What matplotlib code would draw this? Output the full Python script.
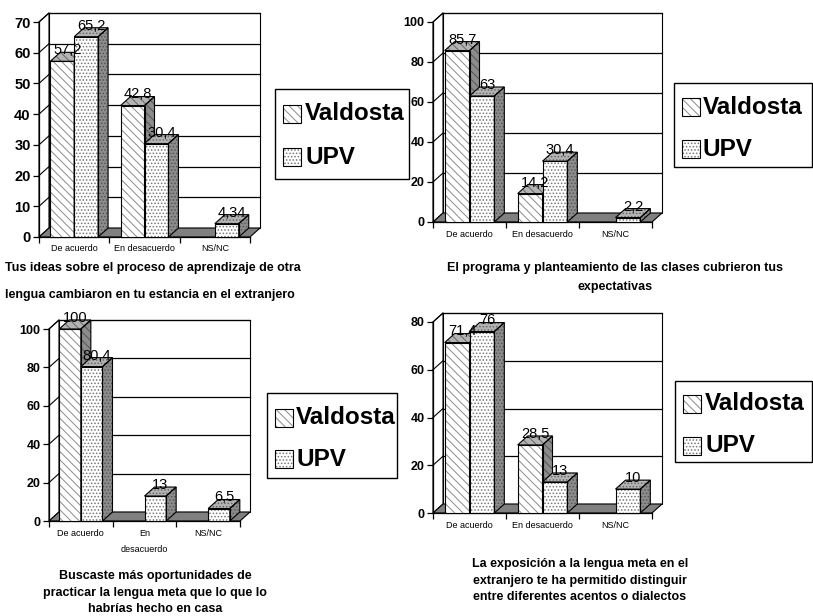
import matplotlib
matplotlib.use('Agg')
import matplotlib.pyplot as plt
import numpy as np
from matplotlib.patches import Polygon, Rectangle

plt.rcParams['font.family'] = ['Liberation Sans', 'DejaVu Sans']
plt.rcParams['hatch.linewidth'] = 0.7
NARROW = ['Liberation Sans Narrow', 'Liberation Sans', 'DejaVu Sans']

# ---- data ----
series = ['Valdosta', 'UPV']
categories = ['De acuerdo', 'En desacuerdo', 'NS/NC']
categories_3 = ['De acuerdo', 'En\ndesacuerdo', 'NS/NC']

valdosta_1 = [57.2, 42.8, 0]
upv_1 = [65.2, 30.4, 4.34]
valdosta_2 = [85.7, 14.2, 0]
upv_2 = [63, 30.4, 2.2]
valdosta_3 = [100, 0, 0]
upv_3 = [80.4, 13, 6.5]
valdosta_4 = [71.4, 28.5, 0]
upv_4 = [76, 13, 10]

yticks_1 = [0, 10, 20, 30, 40, 50, 60, 70]
yticks_2 = [0, 20, 40, 60, 80, 100]
yticks_3 = [0, 20, 40, 60, 80, 100]
yticks_4 = [0, 20, 40, 60, 80]

caption_1 = ['Tus ideas sobre el proceso de aprendizaje de otra',
             'lengua cambiaron en tu estancia en el extranjero']
caption_2 = ['El programa y planteamiento de las clases cubrieron tus',
             'expectativas']
caption_3 = ['Buscaste más oportunidades de',
             'practicar la lengua meta que lo que lo',
             'habrías hecho en casa']
caption_4 = ['La exposición a la lengua meta en el',
             'extranjero te ha permitido distinguir',
             'entre diferentes acentos o dialectos']

W, H = 813, 616
fig = plt.figure(figsize=(W / 100, H / 100), dpi=100)
fig.patch.set_facecolor('white')

def fx(px):
    return px / W

def fy(py):
    return 1 - py / H

DX, DY = 10, 9  # depth offset in pixels
BW = 0.34

styles = {
    'Valdosta': dict(hatch='\\\\\\\\', front='white', top='#b4b4b4', side='#8c8c8c', hc='#8a8a8a'),
    'UPV': dict(hatch='.....', front='white', top='#b4b4b4', side='#8c8c8c', hc='#777777'),
}

def face(ax, pts, fc, hatch, hc, z):
    ax.add_patch(Polygon(pts, closed=True, facecolor=fc, edgecolor=hc, hatch=hatch,
                         lw=0, zorder=z, clip_on=False))
    ax.add_patch(Polygon(pts, closed=True, fill=False, edgecolor='black',
                         lw=0.8, zorder=z + 0.01, clip_on=False))

def panel(box, vals_v, vals_u, yticks, cats, tick_fs, xlab_pad):
    x0, x1, y0, ytop = box
    ymax = yticks[-1]
    ax = fig.add_axes([fx(x0), fy(y0), (x1 - x0) / W, (y0 - ytop) / H])
    ax.set_xlim(-0.5, 2.5)
    ax.set_ylim(0, ymax)
    ax.patch.set_visible(False)
    ddx = DX / (x1 - x0) * 3.0
    ddy = DY / (y0 - ytop) * ymax

    # walls and floor
    ax.add_patch(Rectangle((-0.5 + ddx, ddy), 3, ymax, facecolor='white',
                           edgecolor='black', lw=0.8, zorder=0.5, clip_on=False))
    ax.add_patch(Polygon([(-0.5, 0), (-0.5 + ddx, ddy), (-0.5 + ddx, ymax + ddy), (-0.5, ymax)],
                         facecolor='white', edgecolor='black', lw=0.8, zorder=0.5, clip_on=False))
    for t in yticks[1:]:
        ax.plot([-0.5 + ddx, 2.5 + ddx], [t + ddy, t + ddy], color='black', lw=0.9,
                zorder=0.6, clip_on=False)
        ax.plot([-0.5, -0.5 + ddx], [t, t + ddy], color='black', lw=0.8,
                zorder=0.6, clip_on=False)
    ax.add_patch(Polygon([(-0.5, 0), (2.5, 0), (2.5 + ddx, ddy), (-0.5 + ddx, ddy)],
                         facecolor='#808080', edgecolor='black', lw=0.8, zorder=0.7, clip_on=False))

    # bars
    for si, (name, vals) in enumerate(zip(series, [vals_v, vals_u])):
        st = styles[name]
        z = 3 + si
        for ci, v in enumerate(vals):
            if v <= 0:
                continue
            l = ci - BW + si * BW
            r = l + BW
            face(ax, [(r, 0), (r + ddx, ddy), (r + ddx, v + ddy), (r, v)],
                 st['side'], st['hatch'], '#555555', z)
            face(ax, [(l, v), (r, v), (r + ddx, v + ddy), (l + ddx, v + ddy)],
                 st['top'], st['hatch'], '#666666', z)
            face(ax, [(l, 0), (r, 0), (r, v), (l, v)],
                 st['front'], st['hatch'], st['hc'], z)
            ax.text((l + r) / 2 + ddx / 2, v + ddy * 0.45, f'{v:g}'.replace('.', ','),
                    ha='center', va='bottom', fontsize=10.5, family=NARROW, zorder=10)

    for s in ['top', 'right']:
        ax.spines[s].set_visible(False)
    ax.spines['left'].set_linewidth(0.9)
    ax.spines['bottom'].set_linewidth(0.9)
    ax.set_yticks(yticks)
    ax.set_yticklabels([str(t) for t in yticks], fontsize=tick_fs, weight='bold', family=NARROW)
    ax.tick_params(axis='y', direction='out', length=4, width=0.9, pad=2)
    ax.set_xticks([-0.5, 0.5, 1.5, 2.5])
    ax.set_xticklabels([])
    ax.set_xticks([0, 1, 2], minor=True)
    ax.set_xticklabels(cats, minor=True, fontsize=6.5, linespacing=1.9)
    ax.tick_params(axis='x', which='major', direction='out', length=4, width=0.9)
    ax.tick_params(axis='x', which='minor', length=0, pad=xlab_pad)
    return ax

def legend(box, sq_x, sq_ys, text_x):
    bx0, bx1, by0, by1 = box
    fig.add_artist(Rectangle((fx(bx0), fy(by1)), (bx1 - bx0) / W, (by1 - by0) / H,
                             transform=fig.transFigure, facecolor='white',
                             edgecolor='black', lw=1.0))
    for name, sy in zip(series, sq_ys):
        st = styles[name]
        for fill in (True, False):
            fig.add_artist(Rectangle((fx(sq_x), fy(sy + 18)), 18 / W, 18 / H,
                                     transform=fig.transFigure,
                                     facecolor=st['front'] if fill else 'none',
                                     edgecolor=st['hc'] if fill else 'black',
                                     hatch=st['hatch'] if fill else None,
                                     lw=0 if fill else 0.8))
        fig.text(fx(text_x), fy(sy + 9), name, fontsize=17.5, weight='bold',
                 family=NARROW, va='center', ha='left')

def caption(lines, cx, ys, ha='center'):
    for line, yy in zip(lines, ys):
        fig.text(fx(cx), fy(yy), line, fontsize=9, weight='bold', ha=ha, va='center')

panel((39, 250, 237, 22), valdosta_1, upv_1, yticks_1, categories, 10.5, 5)
panel((433, 652, 222, 22), valdosta_2, upv_2, yticks_2, categories, 9, 6)
panel((49, 240, 521, 329), valdosta_3, upv_3, yticks_3, categories_3, 9, 6)
panel((433, 652, 513, 322), valdosta_4, upv_4, yticks_4, categories, 9, 6)

legend((275, 409, 89, 179), 283, [105, 148], 305)
legend((674, 812, 83, 167), 682, [98, 140], 703)
legend((267, 397, 393, 478), 275, [409, 450], 296)
legend((675, 812, 381, 462), 683, [395, 437], 705)

caption(caption_1, 5, [268, 295], ha='left')
caption(caption_2, 615, [268, 287])
caption(caption_3, 155, [576, 593, 609])
caption(caption_4, 580, [564, 581, 597])

fig.savefig('out.png', dpi=100, facecolor='white')
